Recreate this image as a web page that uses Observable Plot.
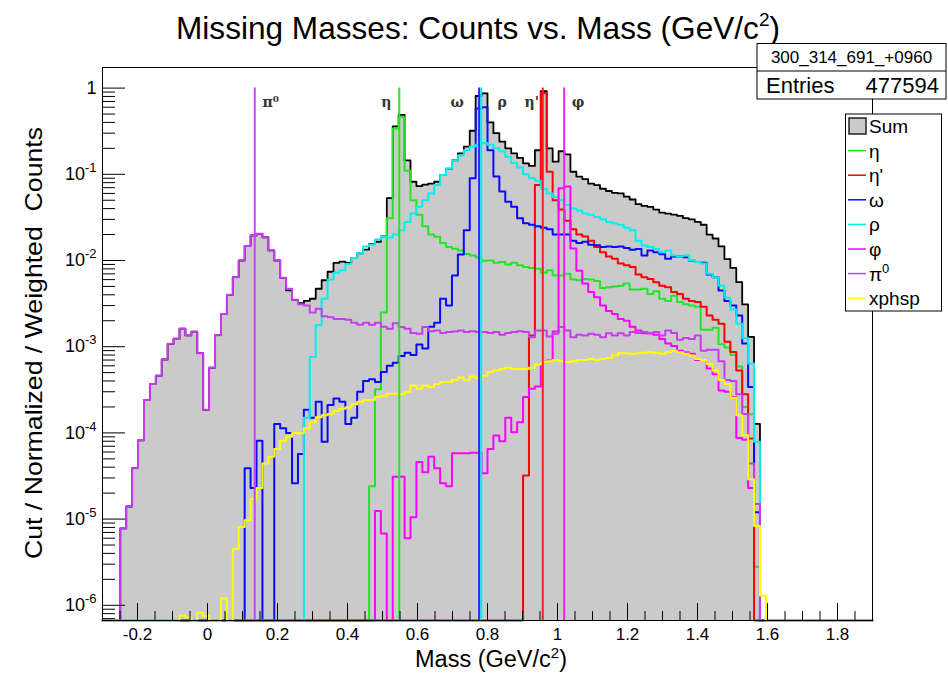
<!DOCTYPE html>
<html><head><meta charset="utf-8">
<script src="https://cdn.jsdelivr.net/npm/d3@7"></script>
<script src="https://cdn.jsdelivr.net/npm/@observablehq/plot@0.6"></script>
<style>
html,body{margin:0;padding:0;background:#fff;}
#chart{position:relative;width:948px;height:673px;}
</style></head><body><div id="chart"></div>
<script>
// ---------------- data ----------------
const binRange = [-0.3, 1.9];
const nBins = 130;

const sumStart = 3;
const sumCounts = [7.8e-6,1.4e-5,3.9e-5,8.2e-5,2.4e-4,3.7e-4,4.6e-4,7.1e-4,1.08e-3,1.24e-3,
1.62e-3,1.35e-3,1.49e-3,8.4e-4,1.85e-4,5.7e-4,1.36e-3,2.4e-3,4.0e-3,6.4e-3,
1.0e-2,1.47e-2,1.95e-2,2.04e-2,1.86e-2,1.31e-2,1.0e-2,6.3e-3,4.5e-3,3.5e-3,
3.2e-3,3.4e-3,3.6e-3,4.7e-3,5.9e-3,7.4e-3,9.4e-3,9.7e-3,9.4e-3,1.07e-2,
1.21e-2,1.34e-2,1.55e-2,1.65e-2,1.9e-2,5.3e-2,0.36,0.49,0.145,0.082,
0.073,0.076,0.078,0.082,0.098,0.116,0.145,0.175,0.21,0.32,
0.81,0.87,0.40,0.30,0.24,0.20,0.175,0.155,0.134,0.125,
0.19,0.92,0.20,0.14,0.185,0.17,0.107,0.094,0.088,0.078,
0.075,0.068,0.064,0.061,0.060,0.055,0.051,0.045,0.043,0.042,
0.039,0.036,0.035,0.034,0.033,0.031,0.030,0.028,0.026,0.020,
0.018,0.0146,0.0104,8.2e-3,5.6e-3,3.1e-3,1.3e-3,1.27e-4];

const etaStart = 45;
const etaCounts = [2.4e-5,3.2e-4,2.5e-3,0.031,0.34,0.46,0.11,0.05,0.034,0.025,
0.020,0.0188,0.016,0.0143,0.0137,0.0131,0.0119,0.0114,0.0109,9.9e-3,
0.010,9.4e-3,9.6e-3,9.0e-3,9.4e-3,8.8e-3,8.4e-3,8.2e-3,8.0e-3,7.2e-3,
7.7e-3,6.7e-3,6.7e-3,7.0e-3,6.0e-3,5.9e-3,6.1e-3,6.0e-3,5.8e-3,4.8e-3,
4.9e-3,5.0e-3,5.1e-3,5.4e-3,4.6e-3,4.6e-3,4.7e-3,4.1e-3,4.4e-3,3.6e-3,
3.4e-3,3.9e-3,3.3e-3,3.1e-3,3.0e-3,2.9e-3,1.57e-3,1.57e-3,1.66e-3,1.07e-3,
9.8e-4,8.0e-4,5.9e-4,2.0e-4,1.64e-4,2.8e-6];

const etaPrimeStart = 71;
const etaPrimeCounts = [3.2e-5,1.35e-3,0.075,0.88,0.107,0.05,0.039,0.029,0.023,0.020,
0.019,0.017,0.0143,0.0125,0.0111,0.0105,9.2e-3,8.8e-3,8.4e-3,6.9e-3,
6.4e-3,6.1e-3,5.6e-3,5.1e-3,4.9e-3,4.3e-3,4.1e-3,3.6e-3,3.4e-3,3.3e-3,
2.9e-3,2.3e-3,2.05e-3,1.85e-3,1.14e-3,8.7e-4,5.3e-4,2.8e-4,8.6e-5];

const omegaStart = 24;
const omegaCounts = [3.9e-5,2.3e-5,8.1e-5,0,0,1.27e-4,1.13e-4,1.0e-4,2.6e-5,5.7e-5,
1.86e-4,1.5e-4,2.3e-4,7.9e-5,2.1e-4,2.5e-4,2.3e-4,1.27e-4,1.5e-4,3.0e-4,
4.0e-4,4.2e-4,3.9e-4,5.1e-4,6.0e-4,6.5e-4,7.8e-4,8.5e-4,8.0e-4,1.06e-3,
9.5e-4,1.7e-3,1.9e-3,3.6e-3,3.0e-3,6.7e-3,0.0117,0.0225,0.09,0.58,
0.60,0.19,0.094,0.063,0.048,0.042,0.031,0.027,0.026,0.025,
0.024,0.023,0.020,0.020,0.020,0.017,0.016,0.0165,0.0152,0.015,
0.0143,0.0145,0.0143,0.0145,0.014,0.0133,0.0136,0.0114,0.0131,0.0125,
0.0118,0.0105,0.0111,0.0111,0.0109,9.9e-3,9.6e-3,9.4e-3,6.9e-3,6.4e-3,
4.5e-3,3.4e-3,3.0e-3,2.3e-3,1.09e-3,3.4e-4,1.2e-5];

const rhoStart = 34;
const rhoCounts = [1.5e-4,7.6e-4,1.78e-3,3.6e-3,6.0e-3,7.2e-3,7.7e-3,9.1e-3,0.0107,0.0121,
0.0145,0.0152,0.0175,0.0188,0.0185,0.020,0.0225,0.028,0.035,0.042,
0.050,0.060,0.075,0.098,0.116,0.145,0.165,0.19,0.21,0.22,
0.23,0.22,0.20,0.185,0.16,0.135,0.12,0.10,0.09,0.084,
0.068,0.060,0.054,0.050,0.044,0.040,0.038,0.035,0.034,0.032,
0.030,0.028,0.027,0.026,0.024,0.0225,0.017,0.0149,0.0143,0.0136,
0.0125,0.0131,0.0114,0.0111,0.0114,0.0100,9.6e-3,9.2e-3,7.0e-3,6.4e-3,
5.1e-3,3.7e-3,2.7e-3,1.85e-3,1.25e-3,6.4e-4,7.9e-5];

const phiStart = 46;
const phiCounts = [1.24e-5,6.8e-6,0,3.1e-5,3.1e-5,6.0e-6,1.05e-5,4.6e-5,3.5e-5,5.3e-5,
3.9e-5,2.6e-5,2.4e-5,5.8e-5,5.8e-5,5.8e-5,5.9e-5,5.9e-5,3.4e-5,6.5e-5,
9.3e-5,8.0e-5,1.5e-4,1.02e-4,1.33e-4,2.6e-4,3.25e-4,3.45e-4,6.6e-4,6.9e-4,
1.5e-3,0.069,0.072,0.0138,7.6e-3,5.4e-3,4.3e-3,3.75e-3,3.0e-3,2.6e-3,
2.4e-3,2.1e-3,2.0e-3,1.7e-3,1.54e-3,1.43e-3,1.42e-3,1.38e-3,1.23e-3,1.09e-3,
1.02e-3,9.0e-4,8.6e-4,8.3e-4,7.0e-4,7.0e-4,5.6e-4,4.8e-4,3.1e-4,3.0e-4,
2.6e-4,8.7e-5,8.3e-5,2.3e-5,1.5e-5];

const pi0Start = 3;
const pi0Counts = [7.8e-6,1.4e-5,3.9e-5,8.2e-5,2.4e-4,3.7e-4,4.6e-4,7.1e-4,1.08e-3,1.24e-3,
1.62e-3,1.35e-3,1.49e-3,8.4e-4,1.85e-4,5.7e-4,1.36e-3,2.4e-3,4.0e-3,6.4e-3,
1.0e-2,1.47e-2,1.95e-2,2.04e-2,1.86e-2,1.31e-2,1.0e-2,6.3e-3,4.7e-3,3.5e-3,
3.1e-3,3.0e-3,2.5e-3,2.75e-3,2.25e-3,2.2e-3,2.1e-3,2.1e-3,2.05e-3,1.9e-3,
1.8e-3,1.9e-3,1.8e-3,1.9e-3,1.7e-3,1.62e-3,1.87e-3,1.69e-3,1.62e-3,1.44e-3,
1.41e-3,1.69e-3,1.51e-3,1.54e-3,1.44e-3,1.48e-3,1.50e-3,1.54e-3,1.48e-3,1.51e-3,
1.48e-3,1.48e-3,1.44e-3,1.48e-3,1.38e-3,1.44e-3,1.48e-3,1.51e-3,1.48e-3,1.29e-3,
1.54e-3,1.54e-3,1.31e-3,1.41e-3,1.69e-3,1.54e-3,1.29e-3,1.38e-3,1.35e-3,1.41e-3,
1.38e-3,1.29e-3,1.43e-3,1.35e-3,1.43e-3,1.35e-3,1.48e-3,1.44e-3,1.48e-3,1.44e-3,
1.48e-3,1.35e-3,1.54e-3,1.44e-3,1.2e-3,1.26e-3,1.23e-3,1.35e-3,9.0e-4,9.2e-4,
9.2e-4,6.8e-4,4.1e-4,4.0e-4,2.8e-4,1.66e-4,4.4e-5,1.5e-5];

const xphspStart = 13;
const xphspCounts = [7.6e-7,7.2e-7,0,8.2e-7,7.5e-7,0,0,1.2e-6,0,4.5e-6,
8.1e-6,9.7e-6,1.7e-5,2.3e-5,4.4e-5,5.3e-5,6.5e-5,8.1e-5,9.0e-5,1.0e-4,
9.9e-5,1.13e-4,1.33e-4,1.52e-4,1.6e-4,1.66e-4,1.8e-4,1.9e-4,1.97e-4,2.15e-4,
2.3e-4,2.4e-4,2.4e-4,2.6e-4,2.7e-4,2.85e-4,2.85e-4,2.8e-4,3.0e-4,3.55e-4,
3.25e-4,3.55e-4,3.4e-4,3.7e-4,3.9e-4,3.9e-4,4.1e-4,4.4e-4,4.1e-4,4.5e-4,
4.3e-4,4.6e-4,5.1e-4,5.3e-4,5.5e-4,5.7e-4,5.5e-4,5.5e-4,5.5e-4,5.7e-4,
6.2e-4,6.6e-4,6.8e-4,7.0e-4,6.8e-4,6.6e-4,6.8e-4,7.0e-4,7.0e-4,7.2e-4,
7.0e-4,7.2e-4,7.4e-4,7.9e-4,8.4e-4,8.4e-4,8.3e-4,8.4e-4,8.5e-4,8.6e-4,
8.5e-4,8.3e-4,8.6e-4,9.0e-4,8.6e-4,8.3e-4,7.9e-4,7.2e-4,7.0e-4,6.3e-4,
5.3e-4,4.1e-4,3.7e-4,2.55e-4,1.6e-4,9.4e-5,2.9e-5,8.3e-6,1.3e-6];

// reference lines (particle masses) and their labels
const markerNames  = ["π⁰", "η", "ω", "ρ", "η'", "φ"];
const markerMasses = [0.135, 0.548, 0.776, 0.782, 0.958, 1.019];

// axis ticks
const yDomain = [6.66e-7, 1.734];
const yMajorTicks = [1, 1e-1, 1e-2, 1e-3, 1e-4, 1e-5, 1e-6];
const yTickLabels = ["1", "10^-1", "10^-2", "10^-3", "10^-4", "10^-5", "10^-6"];
const xMajorTicks = [-0.2, 0, 0.2, 0.4, 0.6, 0.8, 1, 1.2, 1.4, 1.6, 1.8];
const xTickLabels = ["-0.2", "0", "0.2", "0.4", "0.6", "0.8", "1", "1.2", "1.4", "1.6", "1.8"];

const legendNames = ["Sum", "η", "η'", "ω", "ρ", "φ", "π0", "xphsp"];

// ---------------- styles ----------------
const FONT = "'Liberation Sans', Arial, Helvetica, sans-serif";
const sumFill = "#cacaca";
const colorOf = {
  "Sum": "#000000", "η": "#22e622", "η'": "#ff0000", "ω": "#0a0aff",
  "ρ": "#00f0f0", "φ": "#ff00ff", "π0": "#c83cf0", "xphsp": "#ffff00"
};
const markerColors = ["#cc44ee", "#22e622", "#2a2aff", "#00eeee", "#ff2020", "#ee22ee"];
const markerDx = [16, -13, -22, 21, -11, 14];

// ---------------- build ----------------
const binW = (binRange[1] - binRange[0]) / nBins;
function toSteps(start, counts) {
  const pts = [];
  for (let k = 0; k < nBins; k++) {
    const i = k - start;
    const v = (i >= 0 && i < counts.length) ? counts[i] : 0;
    pts.push({x: binRange[0] + k * binW, y: v > 0 ? v : yDomain[0]});
  }
  pts.push({x: binRange[1], y: pts[nBins - 1].y});
  return pts;
}
const sumPts = toSteps(sumStart, sumCounts);
const compSeries = [
  ["η", etaStart, etaCounts],
  ["η'", etaPrimeStart, etaPrimeCounts],
  ["ω", omegaStart, omegaCounts],
  ["ρ", rhoStart, rhoCounts],
  ["φ", phiStart, phiCounts],
  ["π0", pi0Start, pi0Counts],
  ["xphsp", xphspStart, xphspCounts]
].map(([name, s, c]) => ({name, pts: toSteps(s, c)}));

const yMinorTicks = [];
for (let e = -7; e <= 0; e++) for (let m = 2; m <= 9; m++) {
  const v = m * Math.pow(10, e);
  if (v > yDomain[0] && v < yDomain[1]) yMinorTicks.push(v);
}
const xMinorTicks = d3.range(-0.25, 1.901, 0.05).map(v => +v.toFixed(2))
  .filter(v => !xMajorTicks.some(t => Math.abs(t - v) < 1e-9));

const W = 948, H = 673, mL = 102, mR = 76, mT = 67, mB = 53;
const frameW = W - mL - mR, frameH = H - mT - mB;

const marks = [
  Plot.areaY(sumPts, {x: "x", y1: yDomain[0], y2: "y", curve: "step-after", fill: sumFill}),
  Plot.line(sumPts, {x: "x", y: "y", curve: "step-after", stroke: colorOf["Sum"], strokeWidth: 1.8}),
  ...compSeries.map(s => Plot.line(s.pts, {x: "x", y: "y", curve: "step-after", stroke: colorOf[s.name], strokeWidth: 2})),
  ...markerMasses.map((m, i) => Plot.ruleX([m], {x: d => d, y1: 1, y2: yDomain[0], stroke: markerColors[i], strokeWidth: 2})),
  ...markerNames.map((n, i) => Plot.text([n], {x: () => markerMasses[i], text: d => d, frameAnchor: "top", dy: 30, dx: markerDx[i], fontSize: 14, fontWeight: "bold", fill: "#333", fontFamily: "'DejaVu Serif', serif"})),
  Plot.tickY(yMajorTicks, {y: d => d, insetRight: frameW - 23, stroke: "#000"}),
  Plot.tickY(yMinorTicks, {y: d => d, insetRight: frameW - 13, stroke: "#000"}),
  Plot.tickX(xMajorTicks, {x: d => d, insetTop: frameH - 17, stroke: "#000"}),
  Plot.tickX(xMinorTicks, {x: d => d, insetTop: frameH - 9, stroke: "#000"}),
  Plot.axisY({ticks: yMajorTicks, tickSize: 0, tickPadding: 6, fontSize: 18, label: null,
              tickFormat: (d) => yTickLabels[yMajorTicks.indexOf(d)]}),
  Plot.axisX({ticks: xMajorTicks, tickSize: 0, tickPadding: 7, fontSize: 17, label: null,
              tickFormat: (d) => xTickLabels[xMajorTicks.indexOf(d)]}),
  Plot.frame({stroke: "#000", strokeWidth: 1})
];

const svgNode = Plot.plot({
  width: W, height: H,
  marginLeft: mL, marginRight: mR, marginTop: mT, marginBottom: mB,
  x: {domain: binRange, label: null},
  y: {type: "log", domain: yDomain, label: null},
  style: {fontFamily: FONT, background: "white", color: "black", overflow: "visible"},
  marks
});
document.getElementById("chart").appendChild(svgNode);

const svg = d3.select(svgNode);
// superscript exponents on y tick labels
svg.selectAll('g[aria-label="y-axis tick label"] text').each(function () {
  const t = this.textContent;
  if (t.includes("^")) {
    const [base, exp] = t.split("^");
    const s = d3.select(this);
    s.text(base);
    s.append("tspan").attr("dy", "-8").attr("font-size", "13px").text(exp);
  }
});

function txt(x, y, size, anchor) {
  return svg.append("text").attr("x", x).attr("y", y).attr("font-size", size)
    .attr("text-anchor", anchor || "start").attr("font-family", FONT).attr("fill", "#000");
}
// title
const title = txt(478, 39, 31.6, "middle").text("Missing Masses: Counts vs. Mass (GeV/c");
title.append("tspan").attr("dy", -13).attr("font-size", 19).text("2");
title.append("tspan").attr("dy", 13).text(")");

// axis titles
const xt = txt(491, 667, 23.5, "middle").text("Mass (GeV/c");
xt.append("tspan").attr("dy", -9).attr("font-size", 15).text("2");
xt.append("tspan").attr("dy", 9).text(")");
svg.append("text").attr("transform", "translate(42,343) rotate(-90)")
  .attr("text-anchor", "middle").attr("font-size", 24).attr("font-family", FONT)
  .attr("textLength", 432).attr("lengthAdjust", "spacingAndGlyphs")
  .style("white-space", "pre").text("Cut / Normalized / Weighted  Counts");

// stats box
svg.append("rect").attr("x", 757).attr("y", 43.5).attr("width", 189).attr("height", 55.5)
  .attr("fill", "white").attr("stroke", "black");
svg.append("line").attr("x1", 757).attr("x2", 946).attr("y1", 71).attr("y2", 71).attr("stroke", "black");
txt(851.5, 63, 17, "middle").text("300_314_691_+0960");
txt(766, 93, 22).text("Entries");
txt(939, 93, 22, "end").text("477594");

// legend
svg.append("rect").attr("x", 845.5).attr("y", 114).attr("width", 96).attr("height", 197)
  .attr("fill", "white").attr("stroke", "black");
legendNames.forEach((n, i) => {
  const cy = 126 + i * 24.6;
  if (n === "Sum") {
    svg.append("rect").attr("x", 849).attr("y", cy - 8).attr("width", 17).attr("height", 16)
      .attr("fill", sumFill).attr("stroke", "#222").attr("stroke-width", 1.5);
  } else {
    svg.append("line").attr("x1", 848).attr("x2", 866).attr("y1", cy).attr("y2", cy)
      .attr("stroke", colorOf[n]).attr("stroke-width", 1.5);
  }
  const t = txt(869, cy + 7, 19);
  if (n === "π0") { t.text("π"); t.append("tspan").attr("dy", -8).attr("font-size", 13).text("0"); }
  else t.text(n);
});
</script></body></html>
